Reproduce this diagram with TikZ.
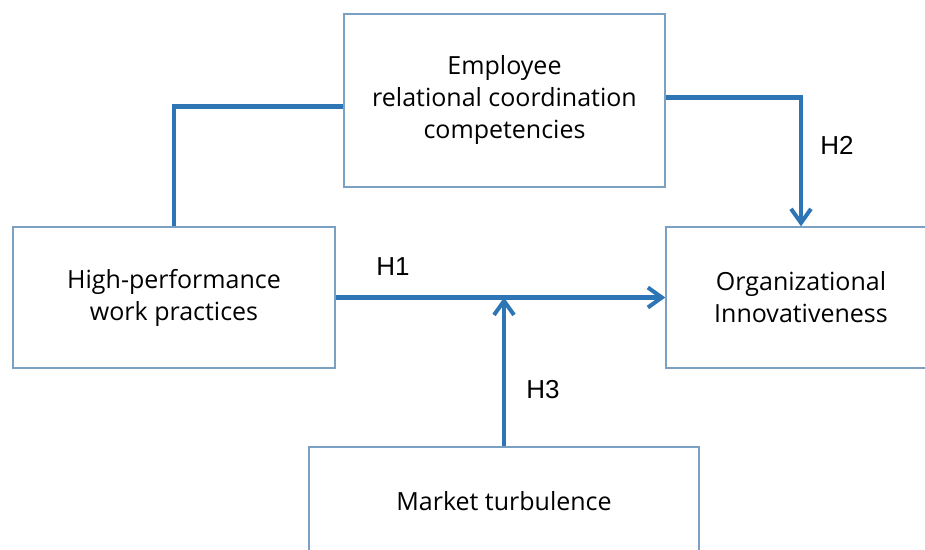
\documentclass[tikz,border=0pt]{standalone}
\usepackage{fontspec}
\setmainfont{Open Sans}
\newfontfamily\hfont{Liberation Sans}
\usepackage{xcolor}
\usepackage{tikz}
\usetikzlibrary{arrows.meta,positioning,calc}

\definecolor{boxline}{RGB}{122,160,196}
\definecolor{arrblue}{RGB}{46,117,182}

\begin{document}
\begin{tikzpicture}[
    x=1pt, y=1pt,
    box/.style={rectangle, draw=boxline, line width=1.4pt, align=center, inner sep=0pt, font=\fontsize{25}{32}\selectfont},
    arr/.style={-{Straight Barb[length=14pt, width=20pt, line width=4pt]}, line width=4.5pt, draw=arrblue},
    lnk/.style={line width=4.5pt, draw=arrblue},
    hlab/.style={font=\hfont\fontsize{26}{30}\selectfont}
]
    \useasboundingbox (0,0) rectangle (925,549);

    \node [box, minimum width=321pt, minimum height=173pt] (emp) at (504.5,448.5) {Employee\\relational coordination\\competencies};
    \node [box, minimum width=322pt, minimum height=141pt] (hpwp) at (174,251.5) {High-performance\\work practices};
    \node [box, minimum width=270pt, minimum height=141pt] (org) at (801,251.5) {Organizational\\Innovativeness};
    \node [box, minimum width=390pt, minimum height=108pt] (mkt) at (504,48) {Market turbulence};

    \draw [lnk] (hpwp.north) |- ([yshift=-6pt]emp.west);
    \draw [arr] ([yshift=3pt]emp.east) -| (org.north);
    \draw [arr] (hpwp.east) -- (org.west);
    \draw [arr] (mkt.north) -- (mkt.north |- hpwp.east);

    \node [hlab] (h1) at (393,282) {H1};
    \node [hlab] (h2) at (837,404) {H2};
    \node [hlab] (h3) at (543,159) {H3};
\end{tikzpicture}
\end{document}
